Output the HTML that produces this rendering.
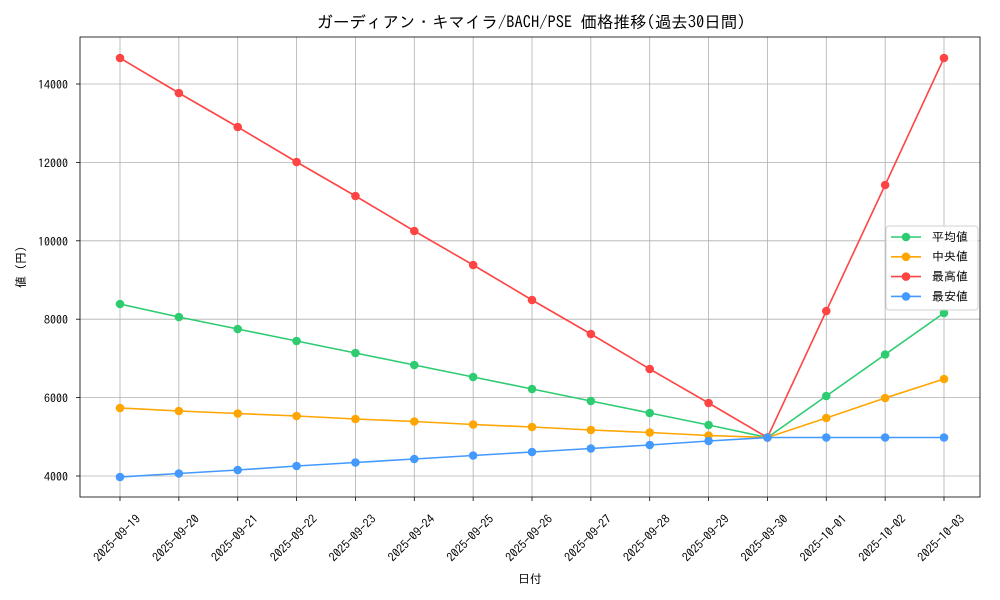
<!DOCTYPE html>
<html><head><meta charset="utf-8"><style>
body{margin:0;background:#fff}
svg{display:block;font-family:"IPAGothic","Noto Sans CJK JP",sans-serif}
</style></head><body>
<svg id="s" width="1000" height="600" xmlns="http://www.w3.org/2000/svg">
<rect width="1000" height="600" fill="#fff"/>
<g id="grid" stroke="#b0b0b0" stroke-width="0.8"></g>
<g id="series"></g>
<rect x="80" y="37" width="900" height="460" fill="none" stroke="#000" stroke-width="0.8"/>
<g font-size="12" fill="#000" text-anchor="end">
<text x="68" y="481">4000</text>
<text x="68" y="402.6">6000</text>
<text x="68" y="324.2">8000</text>
<text x="68" y="245.8">10000</text>
<text x="68" y="167.4">12000</text>
<text x="68" y="89">14000</text>
</g>
<g id="xl" font-size="12" fill="#000" text-anchor="middle">
<text transform="translate(120,541) rotate(-45)">2025-09-19</text>
<text transform="translate(178.9,541) rotate(-45)">2025-09-20</text>
<text transform="translate(237.7,541) rotate(-45)">2025-09-21</text>
<text transform="translate(296.6,541) rotate(-45)">2025-09-22</text>
<text transform="translate(355.4,541) rotate(-45)">2025-09-23</text>
<text transform="translate(414.3,541) rotate(-45)">2025-09-24</text>
<text transform="translate(473.1,541) rotate(-45)">2025-09-25</text>
<text transform="translate(532,541) rotate(-45)">2025-09-26</text>
<text transform="translate(590.9,541) rotate(-45)">2025-09-27</text>
<text transform="translate(649.7,541) rotate(-45)">2025-09-28</text>
<text transform="translate(708.6,541) rotate(-45)">2025-09-29</text>
<text transform="translate(767.4,541) rotate(-45)">2025-09-30</text>
<text transform="translate(826.3,541) rotate(-45)">2025-10-01</text>
<text transform="translate(885.1,541) rotate(-45)">2025-10-02</text>
<text transform="translate(944,541) rotate(-45)">2025-10-03</text>
</g>
<text x="530" y="583" font-size="12" text-anchor="middle">日付</text>
<text transform="translate(25,267) rotate(-90)" font-size="12" text-anchor="middle">値 (円)</text>
<text x="531" y="28" font-size="16.5" text-anchor="middle">ガーディアン・キマイラ/BACH/PSE 価格推移(過去30日間)</text>
<rect x="886" y="226" width="92" height="84" rx="3" fill="#fff" fill-opacity="0.85" stroke="#d0d0d0"/>
<g id="leg"></g>
<g font-size="12">
<text x="932" y="241">平均値</text>
<text x="932" y="260.5">中央値</text>
<text x="932" y="280.5">最高値</text>
<text x="932" y="300.5">最安値</text>
</g>
</svg>
<script>
const NS="http://www.w3.org/2000/svg";
function el(p,t,a){const e=document.createElementNS(NS,t);for(const k in a)e.setAttribute(k,a[k]);p.appendChild(e);return e;}
const g=document.getElementById('grid'),S=document.getElementById('series'),L=document.getElementById('leg');
const xs=[];for(let i=0;i<15;i++)xs.push(120+i*58.857);
xs.forEach(x=>{el(g,'line',{x1:x,x2:x,y1:37,y2:497});el(g,'line',{x1:x,x2:x,y1:497,y2:501,stroke:'#000'});});
for(let i=0;i<6;i++){const y=476-i*78.4;el(g,'line',{x1:80,x2:980,y1:y,y2:y});el(g,'line',{x1:76,x2:80,y1:y,y2:y,stroke:'#000'});}
const data=[
['#2ecc71',[304,317,329,341,353,365,377,389,401,413,425,437.5,396,354.5,313]],
['#ffa500',[408,411,413.5,416,419,421.5,424.5,427,430,432.5,435.5,437.5,418,398,379]],
['#ff4444',[58,93,127,162,196,231,265,300,334,369,403,437.5,311,185,58]],
['#4499ff',[477,473.5,470,466,462.5,459,455.5,452,448.5,445,441,437.5,437.5,437.5,437.5]]];
data.forEach(([c,ys],k)=>{
 el(S,'polyline',{points:ys.map((y,i)=>xs[i]+','+y).join(' '),fill:'none',stroke:c,'stroke-width':1.6});
 ys.forEach((y,i)=>el(S,'circle',{cx:xs[i],cy:y,r:4.3,fill:c}));
 const ly=237+k*19.8;
 el(L,'line',{x1:891,x2:921,y1:ly,y2:ly,stroke:c,'stroke-width':1.6});
 el(L,'circle',{cx:906,cy:ly,r:4.3,fill:c});
});
</script>
</body></html>
